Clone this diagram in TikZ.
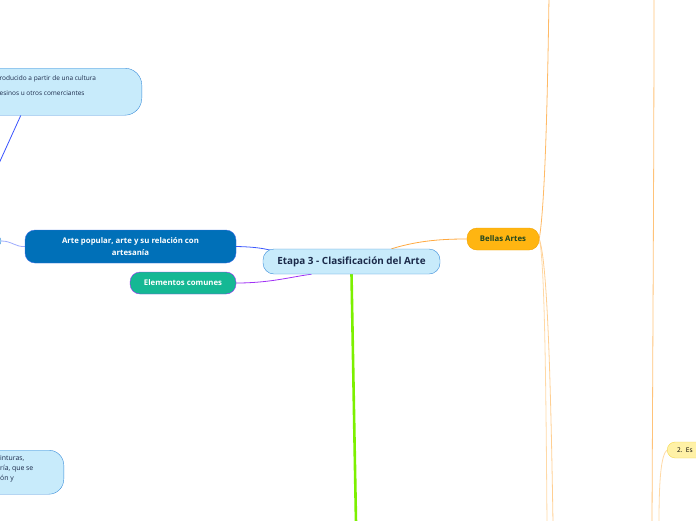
\documentclass[tikz,border=0pt]{standalone}
\usepackage{fontspec}
\setmainfont{Open Sans}
\usetikzlibrary{positioning,calc,backgrounds}
\definecolor{etapafondo}{HTML}{C8EBFB}
\definecolor{etapaborde}{HTML}{3A8DDA}
\definecolor{etapatexto}{HTML}{1B2A4A}
\definecolor{bellas}{HTML}{FFB511}
\definecolor{bellasborde}{HTML}{F2A200}
\definecolor{bellastexto}{HTML}{1E4620}
\definecolor{popular}{HTML}{0070B8}
\definecolor{popularborde}{HTML}{3C6FE8}
\definecolor{comunes}{HTML}{15B894}
\definecolor{morado}{HTML}{A030F5}
\definecolor{azul}{HTML}{3D5AFE}
\definecolor{naranja}{HTML}{FFA940}
\definecolor{naranjaclaro}{HTML}{FFD9A6}
\definecolor{verde}{HTML}{7CF000}
\definecolor{escfondo}{HTML}{FFF1A6}
\definecolor{escborde}{HTML}{F4D94C}
\begin{document}
\begin{tikzpicture}[x=1pt,y=-1pt,
  every node/.style={font=\fontsize{6}{7}\selectfont},
  etapa/.style={draw=etapaborde,fill=etapafondo,rounded corners=11pt,minimum width=177pt,minimum height=25pt,inner sep=0pt,text=etapatexto,font=\fontsize{9.9}{11}\selectfont\bfseries},
  rama/.style={rounded corners=10pt,minimum height=22pt,inner sep=0pt,font=\fontsize{7.8}{11.5}\selectfont\bfseries},
  hoja/.style={draw=etapaborde,fill=etapafondo,rounded corners=17pt,inner sep=0pt},
  hojatexto/.style={inner sep=0pt,align=left,text=etapatexto}]
\useasboundingbox (0,0) rectangle (696,520);
\clip (0,0) rectangle (696,520);
% nodos
\node[etapa] (etapa) at (351.5,261.5) {Etapa 3 - Clasificación del Arte};
\node[rama,fill=bellas,draw=bellasborde,text=bellastexto,minimum width=72pt] (bellas) at (503,239) {Bellas Artes};
\node[rama,fill=popular,draw=popularborde,text=white,minimum width=211pt,minimum height=33pt,align=center] (popular) at (130.5,246.5) {Arte popular, arte y su relación con\\artesanía};
\node[rama,fill=comunes,draw=morado,text=white,minimum width=106pt] (comunes) at (183,283) {Elementos comunes};
% hojas cortadas por el borde
\node[hoja,minimum width=260pt,minimum height=47pt,anchor=north east] (origen) at (142,68) {};
\node[hojatexto,anchor=north west,font=\fontsize{6.5}{15}\selectfont] (origentexto) at (-0.5,75.5) {roducido a partir de una cultura\\esinos u otros comerciantes};
\node[hoja,minimum width=200pt,minimum height=44pt,anchor=north east,rounded corners=15pt] (pinturas) at (64,450) {};
\node[hojatexto,anchor=north west,font=\fontsize{6.9}{10}\selectfont] (pinturastexto) at (0,455) {inturas,\\ría, que se\\ón y};
\node[hoja,minimum width=62pt,minimum height=12pt,rounded corners=6pt] (previo) at (-30,241) {};
\node[draw=escborde,fill=escfondo,rounded corners=8pt,minimum height=16pt,text width=60pt,inner xsep=10pt,inner ysep=0pt,align=left,anchor=west,font=\fontsize{6.5}{7}\selectfont] (escultura) at (667,450) {2. Es};
% conexiones
\coordinate (arriba) at (549,-3);
\coordinate (abajo1) at (547,523);
\coordinate (abajo2) at (553,523);
\coordinate (derarriba) at (654,-3);
\coordinate (derabajo) at (652,523);
\coordinate (escabajo) at (659,523);
\coordinate (verdeabajo) at (356,523);
\coordinate (izqabajo) at (-4,170);
\begin{scope}[on background layer]
\draw[azul,line width=0.8pt] (popular.east) .. controls (262,247) and (270,250) .. ($(etapa.west)+(20,-8)$);
\draw[morado,line width=0.8pt] (comunes.east) .. controls (270,283) and (290,277) .. ($(etapa.south)+(-40,0)$);
\draw[naranja,line width=0.8pt] ($(etapa.north)+(40,0)$) .. controls (420,240) and (445,239) .. (bellas.west);
\draw[verde,line width=2.6pt] (etapa.south) -- (verdeabajo);
\draw[naranja!80,line width=0.8pt] (bellas.east) .. controls (546,200) and (548,60) .. (arriba);
\draw[naranjaclaro,line width=0.8pt] (bellas.east) .. controls (545,260) and (546,400) .. (abajo1);
\draw[naranjaclaro!80!naranja,line width=0.8pt] (bellas.east) .. controls (548,262) and (551,400) .. (abajo2);
\draw[naranja!70,line width=0.8pt] (derarriba) .. controls (654,150) and (653,300) .. (derabajo);
\draw[naranjaclaro,line width=0.8pt] (escultura.west) .. controls (661,455) and (659,480) .. (escabajo);
\draw[azul!90!blue,line width=0.8pt] ($(origen.south)+(9,0)$) -- (izqabajo);
\draw[azul!50,line width=0.8pt] (previo.east) .. controls (12,241) and (15,247) .. (popular.west);
\end{scope}
\end{tikzpicture}
\end{document}
